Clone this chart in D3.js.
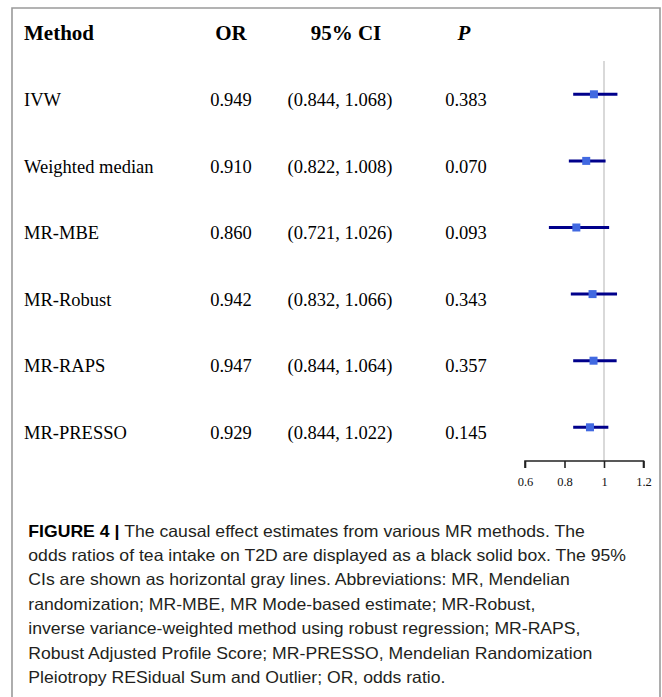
<!DOCTYPE html>
<html>
<head>
<meta charset="utf-8">
<script src="https://cdn.jsdelivr.net/npm/d3@7"></script>
<style>
  html, body { margin: 0; padding: 0; background: #fff; }
  svg { display: block; }
</style>
</head>
<body>
<svg id="chart" width="662" height="697"></svg>
<script>
// Forest plot of MR estimates: method, odds ratio, 95% CI and P value
const methods = ["IVW", "Weighted median", "MR-MBE", "MR-Robust", "MR-RAPS", "MR-PRESSO"];
const orValues = [0.949, 0.910, 0.860, 0.942, 0.947, 0.929];
const ciLower = [0.844, 0.822, 0.721, 0.832, 0.844, 0.844];
const ciUpper = [1.068, 1.008, 1.026, 1.066, 1.064, 1.022];
const pValues = ["0.383", "0.070", "0.093", "0.343", "0.357", "0.145"];
const axisTicks = [0.6, 0.8, 1, 1.2];
const headers = ["Method", "OR", "95% CI", "P"];

const captionBold = "FIGURE 4 | ";
const captionLines = [
  "The causal effect estimates from various MR methods. The",
  "odds ratios of tea intake on T2D are displayed as a black solid box. The 95%",
  "CIs are shown as horizontal gray lines. Abbreviations: MR, Mendelian",
  "randomization; MR-MBE, MR Mode-based estimate; MR-Robust,",
  "inverse variance-weighted method using robust regression; MR-RAPS,",
  "Robust Adjusted Profile Score; MR-PRESSO, Mendelian Randomization",
  "Pleiotropy RESidual Sum and Outlier; OR, odds ratio."
];

const svg = d3.select("#chart");
const serif = "'Liberation Serif', 'Times New Roman', Times, serif";

// frame around figure
svg.append("path")
  .attr("d", "M12,697 V8 H660 V697")
  .attr("fill", "none")
  .attr("stroke", "#9a9a9a")
  .attr("stroke-width", 1.6);

// layout
const headerY = 40;
const rowStep = 66.6;
const markY0 = 94.3;
const textY0 = 106;
const colMethod = 24, colOR = 231, colCI = 340, colP = 466;

const x = d3.scaleLinear().domain([0.6, 1.2]).range([525, 643.5]);
const rowMark = d3.scaleLinear().domain([0, 1]).range([markY0, markY0 + rowStep]);
const rowText = d3.scaleLinear().domain([0, 1]).range([textY0, textY0 + rowStep]);
const axisY = 461;

// headers
const hdr = svg.append("g")
  .attr("font-family", serif)
  .attr("font-weight", "bold")
  .attr("font-size", 21)
  .attr("fill", "#000");
hdr.append("text").attr("x", colMethod).attr("y", headerY).text(headers[0]);
hdr.append("text").attr("x", colOR).attr("y", headerY).attr("text-anchor", "middle").text(headers[1]);
hdr.append("text").attr("x", 346).attr("y", headerY).attr("text-anchor", "middle").text(headers[2]);
hdr.append("text").attr("x", 464).attr("y", headerY).attr("text-anchor", "middle")
  .attr("font-style", "italic").text(headers[3]);

// table body
const body = svg.append("g")
  .attr("font-family", serif)
  .attr("font-size", 18.5)
  .attr("fill", "#000");
methods.forEach((m, i) => {
  const y = rowText(i);
  body.append("text").attr("x", colMethod).attr("y", y).text(m);
  body.append("text").attr("x", colOR).attr("y", y).attr("text-anchor", "middle")
    .text(orValues[i].toFixed(3));
  body.append("text").attr("x", colCI).attr("y", y).attr("text-anchor", "middle")
    .text(`(${ciLower[i].toFixed(3)}, ${ciUpper[i].toFixed(3)})`);
  body.append("text").attr("x", colP).attr("y", y).attr("text-anchor", "middle")
    .text(pValues[i]);
});

// null reference line at OR = 1
svg.append("line")
  .attr("x1", x(1)).attr("x2", x(1))
  .attr("y1", 61).attr("y2", axisY)
  .attr("stroke", "#d9d9d9")
  .attr("stroke-width", 2);

// confidence intervals
svg.append("g").selectAll("line")
  .data(methods)
  .join("line")
  .attr("x1", (d, i) => x(ciLower[i]))
  .attr("x2", (d, i) => x(ciUpper[i]))
  .attr("y1", (d, i) => rowMark(i))
  .attr("y2", (d, i) => rowMark(i))
  .attr("stroke", "#00008b")
  .attr("stroke-width", 3);

// point estimates
const box = 8;
svg.append("g").selectAll("rect")
  .data(methods)
  .join("rect")
  .attr("x", (d, i) => x(orValues[i]) - box / 2)
  .attr("y", (d, i) => rowMark(i) - box / 2)
  .attr("width", box)
  .attr("height", box)
  .attr("fill", "#4169e1");

// x axis
const axis = svg.append("g")
  .attr("transform", `translate(0,${axisY})`)
  .call(d3.axisBottom(x).tickValues(axisTicks).tickSize(7).tickPadding(9)
    .tickFormat(d => String(d)));
axis.select(".domain").attr("stroke", "#222").attr("stroke-width", 1.6)
  .attr("d", `M${x(0.6)},7V0H${x(1.2)}V7`);
axis.selectAll(".tick line").attr("stroke", "#222").attr("stroke-width", 1.6);
axis.selectAll(".tick text")
  .attr("font-family", serif)
  .attr("font-size", 12.5)
  .attr("fill", "#111");

// caption
const capX = 28.3, capY0 = 536.7, capStep = 24.4;
const cap = svg.append("g")
  .attr("font-family", "'Liberation Sans Narrow', 'Arial Narrow', 'Liberation Sans', Arial, sans-serif")
  .attr("font-size", 16.5)
  .attr("fill", "#231f20");
const capTexts = captionLines.map((line, i) => {
  const t = cap.append("text").attr("x", 0).attr("y", capY0 + i * capStep);
  if (i === 0) {
    t.append("tspan").attr("font-weight", "bold").attr("fill", "#000").text(captionBold);
  }
  t.append("tspan").text(line);
  return t;
});
// fit caption width to the column width of the figure box
const natural = capTexts[1].node().getComputedTextLength();
const k = 598 / natural;
cap.attr("transform", `translate(${capX},0) scale(${k},1)`);
</script>
</body>
</html>
